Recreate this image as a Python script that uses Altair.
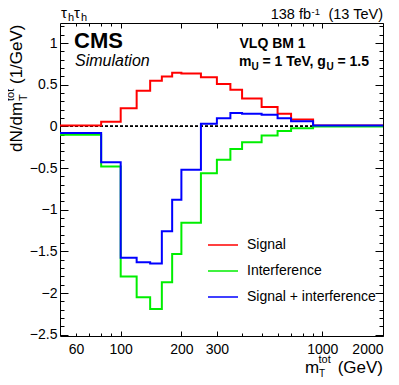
import altair as alt
import pandas as pd

# ---------------- data ----------------
edges = [50, 80, 100, 120, 140, 160, 180, 200, 250, 300, 350, 400, 500, 600, 700, 900, 2000]
signal = [0.012, 0.056, 0.22, 0.43, 0.55, 0.60, 0.645, 0.635, 0.59, 0.51, 0.44, 0.336, 0.234, 0.152, 0.085, 0.012]
interference = [-0.10, -0.48, -1.80, -2.05, -2.19, -1.87, -1.53, -1.156, -0.56, -0.40, -0.27, -0.19, -0.108, -0.055, -0.02, 0.0]
sig_plus_int = [-0.078, -0.43, -1.575, -1.63, -1.645, -1.257, -0.88, -0.52, 0.032, 0.10, 0.162, 0.152, 0.14, 0.10, 0.064, 0.012]
series_names = ["Signal", "Interference", "Signal + interference"]
series_colors = ["#ff0000", "#00ee00", "#0000ff"]

x_label_values = [60, 100, 200, 300, 1000, 2000]
x_major_ticks = [100, 200, 300, 1000, 2000]
x_minor_ticks = [60, 70, 80, 90, 400, 500, 600, 700, 800, 900]
y_label_values = [-2.5, -2, -1.5, -1, -0.5, 0, 0.5, 1]
y_minor_ticks = [-2.4, -2.3, -2.2, -2.1, -1.9, -1.8, -1.7, -1.6, -1.4, -1.3, -1.2, -1.1,
                 -0.9, -0.8, -0.7, -0.6, -0.4, -0.3, -0.2, -0.1, 0.1, 0.2, 0.3, 0.4,
                 0.6, 0.7, 0.8, 0.9, 1.1, 1.2]

X_DOMAIN = [50, 2000]
Y_DOMAIN = [-2.515, 1.242]
W, H = 323, 313
FONT = "Liberation Sans"

rows = []
for name, vals in zip(series_names, [signal, interference, sig_plus_int]):
    for i, v in enumerate(vals):
        rows.append({"series": name, "x": edges[i], "y": v})
    rows.append({"series": name, "x": edges[-1], "y": vals[-1]})
df = pd.DataFrame(rows)

xs = alt.Scale(type="log", domain=X_DOMAIN, nice=False)
ys = alt.Scale(domain=Y_DOMAIN, nice=False, zero=False)

lines = alt.Chart(df).mark_line(interpolate="step-after", strokeWidth=2, clip=True).encode(
    x=alt.X("x:Q", scale=xs, title=None,
            axis=alt.Axis(orient="bottom", values=x_label_values, format="d", ticks=False,
                          tickSize=0, labelPadding=6, labelFontSize=14, labelFont=FONT,
                          domain=False, grid=False)),
    y=alt.Y("y:Q", scale=ys, title=None,
            axis=alt.Axis(orient="left", values=y_label_values, format="~g", ticks=False,
                          tickSize=0, labelPadding=3, labelFontSize=14, labelFont=FONT,
                          domain=False, grid=False)),
    color=alt.Color("series:N", scale=alt.Scale(domain=series_names, range=series_colors),
                    legend=alt.Legend(orient="none", legendX=147, legendY=210, title=None,
                                      symbolType="stroke", symbolSize=900, symbolStrokeWidth=1.5,
                                      labelFontSize=14, labelFont=FONT, labelColor="black",
                                      labelOffset=8, rowPadding=2, clipHeight=24, padding=0)),
    detail="series:N",
)

zero_rule = alt.Chart(df).mark_rule(color="black", strokeDash=[3, 2], strokeWidth=1).encode(
    y=alt.datum(0)
)

def txt(text, x, y, size, weight="normal", style="normal", align="left", angle=0, baseline="alphabetic"):
    kw = dict(fontSize=size, font=FONT, fontWeight=weight, fontStyle=style, align=align,
              baseline=baseline, color="black")
    if angle:
        kw["angle"] = angle
    return alt.Chart(pd.DataFrame({"t": [text]})).mark_text(**kw).encode(
        text="t:N", x=alt.value(x), y=alt.value(y))

texts = [
    txt("τ", 1, -5, 15), txt("h", 8, -2, 11), txt("τ", 14, -5, 15), txt("h", 21, -2, 11),
    txt("138 fb", 251, -4.5, 14.5, align="right"), txt("-1", 251.5, -8.5, 9.5),
    txt("(13 TeV)", 323, -4.5, 14.5, align="right"),
    txt("CMS", 14, 25, 22, weight="bold"),
    txt("Simulation", 15, 43, 16, style="italic"),
    txt("VLQ BM 1", 179.5, 25, 14, weight="bold"),
    txt("m", 179, 43, 14, weight="bold"), txt("U", 191.5, 47, 10, weight="bold"),
    txt("= 1 TeV, g", 202.5, 43, 14, weight="bold"), txt("U", 266.5, 47, 10, weight="bold"),
    txt("= 1.5", 277.5, 43, 14, weight="bold"),
    # x title
    txt("(GeV)", 323, 350, 17, align="right"), txt("m", 245, 350, 17),
    txt("T", 259, 353.5, 10), txt("tot", 258.5, 340, 11),
    # y title (rotated)
    txt("dN/dm", -38, 129, 17, angle=270), txt("T", -33, 78, 11, angle=270),
    txt("tot", -46, 78, 11, angle=270), txt("(1/GeV)", -38, 61, 17, angle=270),
]

main = alt.layer(zero_rule, lines, *texts)


def helper(xorient, xvals, xsize, yorient, yvals, ysize):
    return alt.Chart(df).mark_point(opacity=0, size=0).encode(
        x=alt.X("x:Q", scale=xs, title=None,
                axis=alt.Axis(orient=xorient, values=xvals, labels=False, domain=False, grid=False,
                              ticks=True, tickSize=xsize, offset=-xsize, tickColor="black", tickWidth=1)),
        y=alt.Y("y:Q", scale=ys, title=None,
                axis=alt.Axis(orient=yorient, values=yvals, labels=False, domain=False, grid=False,
                              ticks=True, tickSize=ysize, offset=-ysize, tickColor="black", tickWidth=1)),
    )

h1 = helper("bottom", x_major_ticks, 5, "left", y_label_values, 8)
h2 = helper("bottom", x_minor_ticks, 3, "left", y_minor_ticks, 4)
h3 = helper("top", x_major_ticks, 5, "right", y_label_values, 8)
h4 = helper("top", x_minor_ticks, 3, "right", y_minor_ticks, 4)

chart = alt.layer(main, h1, h2, h3, h4).resolve_scale(
    x="independent", y="independent"
).properties(
    width=W, height=H,
    autosize=alt.AutoSizeParams(type="none"),
    padding={"left": 52, "top": 15, "right": 8, "bottom": 41},
    background="white",
).configure_view(stroke="black", strokeWidth=1).configure_axis(labelColor="black")

chart.save("out.html", embed_options={"renderer": "svg", "actions": False})
